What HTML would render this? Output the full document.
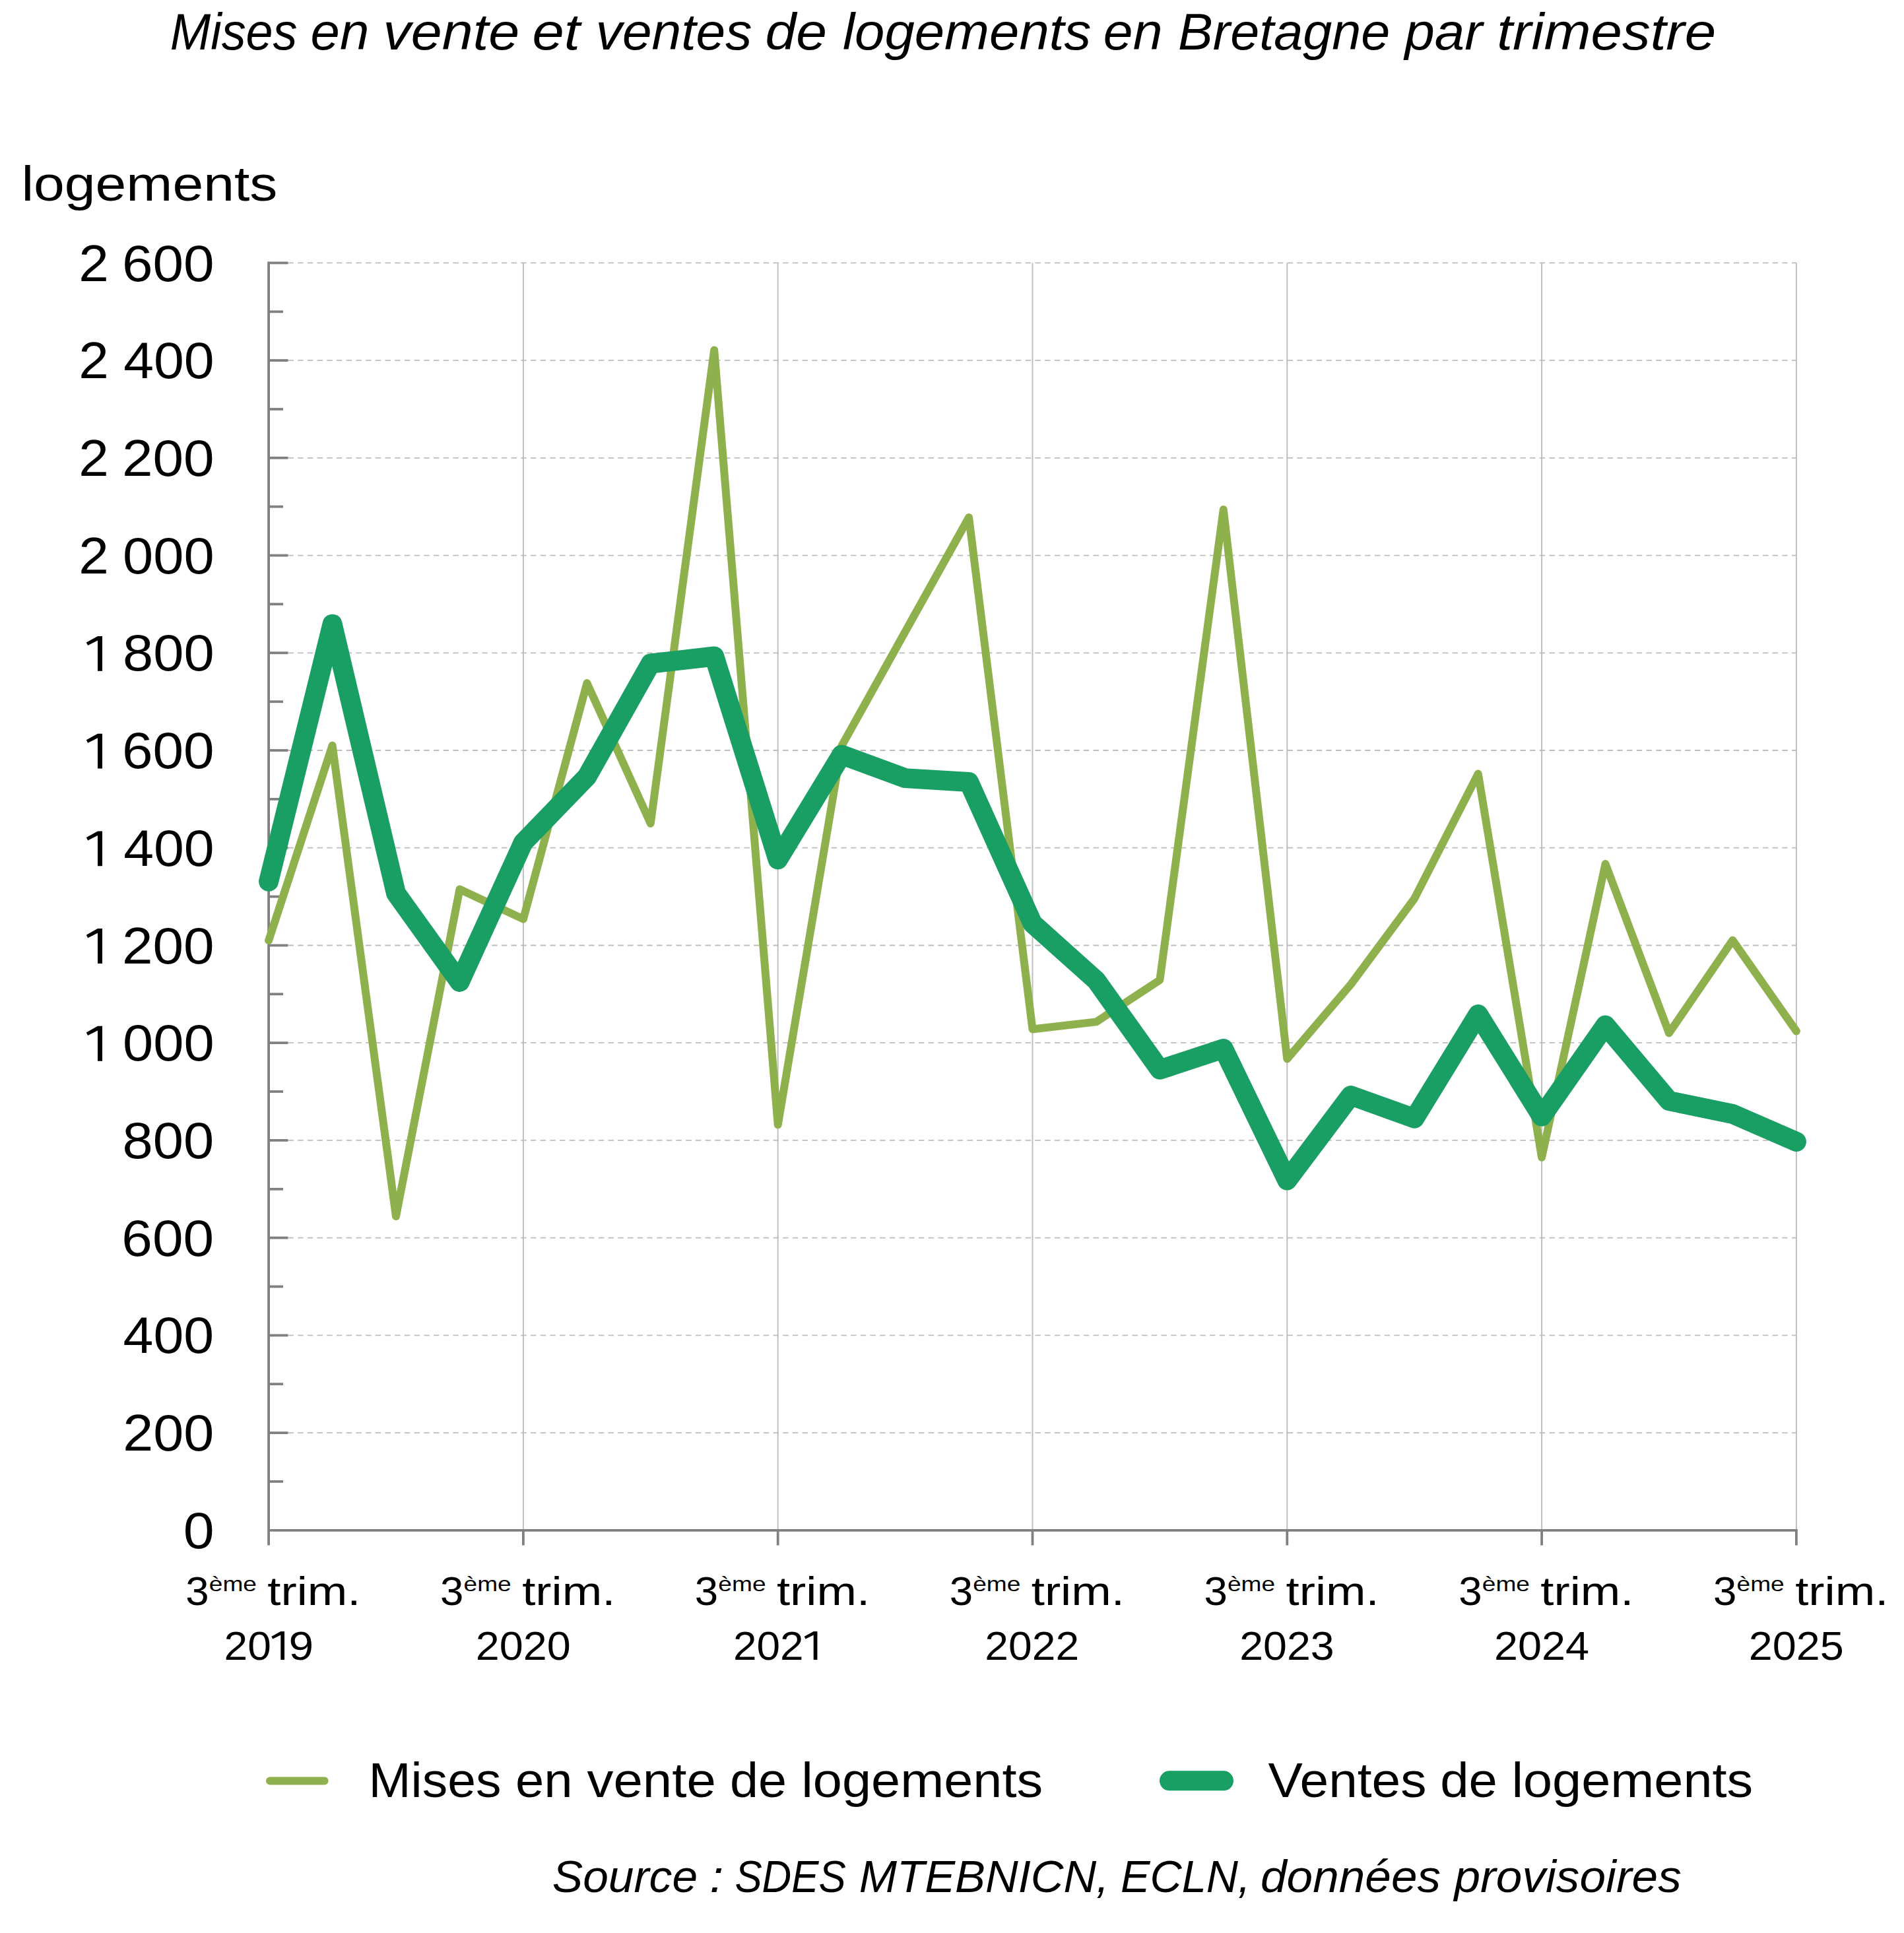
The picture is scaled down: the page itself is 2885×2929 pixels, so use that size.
<!DOCTYPE html>
<html lang="fr"><head><meta charset="utf-8"><title>Mises en vente et ventes de logements en Bretagne</title>
<style>html,body{margin:0;padding:0;background:#fff}body{width:2885px;height:2929px;overflow:hidden}svg{display:block}text{font-family:"Liberation Sans",sans-serif;white-space:pre}</style></head><body>
<svg width="2885" height="2929" viewBox="0 0 2885 2929">
<rect width="2885" height="2929" fill="#fff"/>
<g stroke="#bdbdbd" stroke-width="1.8" stroke-dasharray="8.4 6.3" fill="none"><line x1="436.5" y1="2171.1" x2="2721.9" y2="2171.1"/><line x1="436.5" y1="2023.4" x2="2721.9" y2="2023.4"/><line x1="436.5" y1="1875.6" x2="2721.9" y2="1875.6"/><line x1="436.5" y1="1727.9" x2="2721.9" y2="1727.9"/><line x1="436.5" y1="1580.2" x2="2721.9" y2="1580.2"/><line x1="436.5" y1="1432.5" x2="2721.9" y2="1432.5"/><line x1="436.5" y1="1284.7" x2="2721.9" y2="1284.7"/><line x1="436.5" y1="1137.0" x2="2721.9" y2="1137.0"/><line x1="436.5" y1="989.3" x2="2721.9" y2="989.3"/><line x1="436.5" y1="841.6" x2="2721.9" y2="841.6"/><line x1="436.5" y1="693.8" x2="2721.9" y2="693.8"/><line x1="436.5" y1="546.1" x2="2721.9" y2="546.1"/><line x1="436.5" y1="398.4" x2="2721.9" y2="398.4"/></g>
<g stroke="#bcbcbc" stroke-width="1.9" fill="none"><line x1="792.9" y1="398.4" x2="792.9" y2="2318.8"/><line x1="1178.7" y1="398.4" x2="1178.7" y2="2318.8"/><line x1="1564.5" y1="398.4" x2="1564.5" y2="2318.8"/><line x1="1950.3" y1="398.4" x2="1950.3" y2="2318.8"/><line x1="2336.1" y1="398.4" x2="2336.1" y2="2318.8"/><line x1="2721.9" y1="398.4" x2="2721.9" y2="2318.8"/></g>
<g stroke="#808080" stroke-width="3.8" fill="none"><line x1="407.1" y1="396.5" x2="407.1" y2="2341.6"/><line x1="407.1" y1="2318.8" x2="2723.8" y2="2318.8"/><line x1="407.1" y1="2244.9" x2="429.0" y2="2244.9"/><line x1="407.1" y1="2171.1" x2="436.5" y2="2171.1"/><line x1="407.1" y1="2097.2" x2="429.0" y2="2097.2"/><line x1="407.1" y1="2023.4" x2="436.5" y2="2023.4"/><line x1="407.1" y1="1949.5" x2="429.0" y2="1949.5"/><line x1="407.1" y1="1875.6" x2="436.5" y2="1875.6"/><line x1="407.1" y1="1801.8" x2="429.0" y2="1801.8"/><line x1="407.1" y1="1727.9" x2="436.5" y2="1727.9"/><line x1="407.1" y1="1654.0" x2="429.0" y2="1654.0"/><line x1="407.1" y1="1580.2" x2="436.5" y2="1580.2"/><line x1="407.1" y1="1506.3" x2="429.0" y2="1506.3"/><line x1="407.1" y1="1432.5" x2="436.5" y2="1432.5"/><line x1="407.1" y1="1358.6" x2="429.0" y2="1358.6"/><line x1="407.1" y1="1284.7" x2="436.5" y2="1284.7"/><line x1="407.1" y1="1210.9" x2="429.0" y2="1210.9"/><line x1="407.1" y1="1137.0" x2="436.5" y2="1137.0"/><line x1="407.1" y1="1063.2" x2="429.0" y2="1063.2"/><line x1="407.1" y1="989.3" x2="436.5" y2="989.3"/><line x1="407.1" y1="915.4" x2="429.0" y2="915.4"/><line x1="407.1" y1="841.6" x2="436.5" y2="841.6"/><line x1="407.1" y1="767.7" x2="429.0" y2="767.7"/><line x1="407.1" y1="693.8" x2="436.5" y2="693.8"/><line x1="407.1" y1="620.0" x2="429.0" y2="620.0"/><line x1="407.1" y1="546.1" x2="436.5" y2="546.1"/><line x1="407.1" y1="472.3" x2="429.0" y2="472.3"/><line x1="407.1" y1="398.4" x2="436.5" y2="398.4"/><line x1="792.9" y1="2318.8" x2="792.9" y2="2341.6"/><line x1="1178.7" y1="2318.8" x2="1178.7" y2="2341.6"/><line x1="1564.5" y1="2318.8" x2="1564.5" y2="2341.6"/><line x1="1950.3" y1="2318.8" x2="1950.3" y2="2341.6"/><line x1="2336.1" y1="2318.8" x2="2336.1" y2="2341.6"/><line x1="2721.9" y1="2318.8" x2="2721.9" y2="2341.6"/></g>
<polyline points="407.1,1425.1 503.6,1129.6 600.0,1843.1 696.5,1347.5 792.9,1392.6 889.4,1035.1 985.8,1247.8 1082.2,530.6 1178.7,1704.3 1275.2,1130.4 1371.6,957.2 1468.1,784.0 1564.5,1559.5 1661.0,1548.4 1757.4,1484.9 1853.8,772.1 1950.3,1604.6 2046.8,1491.6 2143.2,1361.6 2239.7,1172.5 2336.1,1753.8 2432.6,1309.1 2529.0,1565.4 2625.4,1424.7 2721.9,1562.5" fill="none" stroke="#8fb14d" stroke-width="12" stroke-linecap="round" stroke-linejoin="round"/>
<polyline points="407.1,1335.7 503.6,945.7 600.0,1353.4 696.5,1487.9 792.9,1276.6 889.4,1176.9 985.8,1005.5 1082.2,994.5 1178.7,1302.5 1275.2,1143.7 1371.6,1179.1 1468.1,1185.0 1564.5,1399.2 1661.0,1485.6 1757.4,1620.8 1853.8,1589.0 1950.3,1788.5 2046.8,1660.0 2143.2,1694.7 2239.7,1537.0 2336.1,1691.7 2432.6,1553.6 2529.0,1668.1 2625.4,1688.0 2721.9,1730.1" fill="none" stroke="#199e64" stroke-width="30" stroke-linecap="round" stroke-linejoin="round"/>
<line x1="409" y1="2698.5" x2="491.6" y2="2698.5" stroke="#8fb14d" stroke-width="12" stroke-linecap="round"/>
<line x1="1772" y1="2698.3" x2="1854" y2="2698.3" stroke="#199e64" stroke-width="30" stroke-linecap="round"/>
<text transform="translate(257.78 74.80) scale(0.9584 1)" font-size="77" font-style="italic" fill="#000">Mises</text>
<text transform="translate(470.59 74.80) scale(1.0367 1)" font-size="77" font-style="italic" fill="#000">en</text>
<text transform="translate(580.61 74.80) scale(1.0967 1)" font-size="77" font-style="italic" fill="#000">vente</text>
<text transform="translate(806.42 74.80) scale(1.1281 1)" font-size="77" font-style="italic" fill="#000">et</text>
<text transform="translate(902.73 74.80) scale(1.0434 1)" font-size="77" font-style="italic" fill="#000">ventes</text>
<text transform="translate(1159.43 74.80) scale(1.0912 1)" font-size="77" font-style="italic" fill="#000">de</text>
<text transform="translate(1276.94 74.80) scale(1.0594 1)" font-size="77" font-style="italic" fill="#000">logements</text>
<text transform="translate(1671.86 74.80) scale(1.0468 1)" font-size="77" font-style="italic" fill="#000">en</text>
<text transform="translate(1785.04 74.80) scale(1.0282 1)" font-size="77" font-style="italic" fill="#000">Bretagne</text>
<text transform="translate(2128.42 74.80) scale(1.0595 1)" font-size="77" font-style="italic" fill="#000">par</text>
<text transform="translate(2268.37 74.80) scale(1.1085 1)" font-size="77" font-style="italic" fill="#000">trimestre</text>
<text transform="translate(32.39 303.70) scale(1.1213 1)" font-size="75" fill="#000">logements</text>
<text transform="translate(277.72 2345.90) scale(1.0946 1)" font-size="77" fill="#000">0</text>
<text transform="translate(186.20 2198.18) scale(1.0738 1)" font-size="77" fill="#000">200</text>
<text transform="translate(186.56 2050.45) scale(1.0710 1)" font-size="77" fill="#000">400</text>
<text transform="translate(184.35 1902.73) scale(1.0885 1)" font-size="77" fill="#000">600</text>
<text transform="translate(185.46 1755.01) scale(1.0797 1)" font-size="77" fill="#000">800</text>
<text transform="translate(186.06 1607.28) scale(1.0789 1)" font-size="77" fill="#000">000</text>
<text transform="translate(184.95 1459.56) scale(1.0877 1)" font-size="77" fill="#000">200</text>
<text transform="translate(187.16 1311.84) scale(1.0702 1)" font-size="77" fill="#000">400</text>
<text transform="translate(184.95 1164.12) scale(1.0877 1)" font-size="77" fill="#000">600</text>
<text transform="translate(186.06 1016.39) scale(1.0789 1)" font-size="77" fill="#000">800</text>
<text transform="translate(119.14 868.67) scale(1.0657 1)" font-size="77" fill="#000">2</text>
<text transform="translate(186.06 868.67) scale(1.0789 1)" font-size="77" fill="#000">000</text>
<text transform="translate(119.14 720.95) scale(1.0657 1)" font-size="77" fill="#000">2</text>
<text transform="translate(184.95 720.95) scale(1.0877 1)" font-size="77" fill="#000">200</text>
<text transform="translate(119.14 573.22) scale(1.0657 1)" font-size="77" fill="#000">2</text>
<text transform="translate(187.16 573.22) scale(1.0702 1)" font-size="77" fill="#000">400</text>
<text transform="translate(119.14 425.50) scale(1.0657 1)" font-size="77" fill="#000">2</text>
<text transform="translate(184.95 425.50) scale(1.0877 1)" font-size="77" fill="#000">600</text>
<text transform="translate(281.25 2431.70) scale(1.0267 1)" font-size="62" fill="#000">3</text>
<text transform="translate(316.74 2411.40) scale(1.1600 1)" font-size="32" fill="#000">ème</text>
<text transform="translate(405.33 2431.70) scale(1.1719 1)" font-size="62" fill="#000">trim.</text>
<text transform="translate(339.47 2515.10) scale(1.0429 1)" font-size="61.5" fill="#000">20</text>
<text transform="translate(437.50 2515.10) scale(1.1000 1)" font-size="61.5" fill="#000">9</text>
<text transform="translate(667.05 2431.70) scale(1.0267 1)" font-size="62" fill="#000">3</text>
<text transform="translate(702.54 2411.40) scale(1.1600 1)" font-size="32" fill="#000">ème</text>
<text transform="translate(791.13 2431.70) scale(1.1719 1)" font-size="62" fill="#000">trim.</text>
<text transform="translate(720.74 2515.10) scale(1.0519 1)" font-size="61.5" fill="#000">2020</text>
<text transform="translate(1052.85 2431.70) scale(1.0267 1)" font-size="62" fill="#000">3</text>
<text transform="translate(1088.34 2411.40) scale(1.1600 1)" font-size="32" fill="#000">ème</text>
<text transform="translate(1176.93 2431.70) scale(1.1719 1)" font-size="62" fill="#000">trim.</text>
<text transform="translate(1110.98 2515.10) scale(1.0402 1)" font-size="61.5" fill="#000">202</text>
<text transform="translate(1438.65 2431.70) scale(1.0267 1)" font-size="62" fill="#000">3</text>
<text transform="translate(1474.14 2411.40) scale(1.1600 1)" font-size="32" fill="#000">ème</text>
<text transform="translate(1562.73 2431.70) scale(1.1719 1)" font-size="62" fill="#000">trim.</text>
<text transform="translate(1492.37 2515.10) scale(1.0435 1)" font-size="61.5" fill="#000">2022</text>
<text transform="translate(1824.45 2431.70) scale(1.0267 1)" font-size="62" fill="#000">3</text>
<text transform="translate(1859.94 2411.40) scale(1.1600 1)" font-size="32" fill="#000">ème</text>
<text transform="translate(1948.53 2431.70) scale(1.1719 1)" font-size="62" fill="#000">trim.</text>
<text transform="translate(1878.15 2515.10) scale(1.0496 1)" font-size="61.5" fill="#000">2023</text>
<text transform="translate(2210.25 2431.70) scale(1.0267 1)" font-size="62" fill="#000">3</text>
<text transform="translate(2245.74 2411.40) scale(1.1600 1)" font-size="32" fill="#000">ème</text>
<text transform="translate(2334.33 2431.70) scale(1.1719 1)" font-size="62" fill="#000">trim.</text>
<text transform="translate(2264.04 2515.10) scale(1.0530 1)" font-size="61.5" fill="#000">2024</text>
<text transform="translate(2596.05 2431.70) scale(1.0267 1)" font-size="62" fill="#000">3</text>
<text transform="translate(2631.54 2411.40) scale(1.1600 1)" font-size="32" fill="#000">ème</text>
<text transform="translate(2720.13 2431.70) scale(1.1719 1)" font-size="62" fill="#000">trim.</text>
<text transform="translate(2649.84 2515.10) scale(1.0519 1)" font-size="61.5" fill="#000">2025</text>
<text transform="translate(558.44 2723.20) scale(1.0267 1)" font-size="75" fill="#000">Mises</text>
<text transform="translate(780.88 2723.20) scale(1.0395 1)" font-size="75" fill="#000">en</text>
<text transform="translate(889.50 2723.20) scale(1.0650 1)" font-size="75" fill="#000">vente</text>
<text transform="translate(1106.01 2723.20) scale(1.0312 1)" font-size="75" fill="#000">de</text>
<text transform="translate(1214.21 2723.20) scale(1.0577 1)" font-size="75" fill="#000">logements</text>
<text transform="translate(1921.45 2723.20) scale(1.0469 1)" font-size="75" fill="#000">Ventes</text>
<text transform="translate(2182.28 2723.20) scale(1.0390 1)" font-size="75" fill="#000">de</text>
<text transform="translate(2290.41 2723.20) scale(1.0571 1)" font-size="75" fill="#000">logements</text>
<text transform="translate(836.75 2867.40) scale(1.0227 1)" font-size="68" font-style="italic" fill="#000">Source</text>
<text transform="translate(1075.15 2867.40) scale(1.1154 1)" font-size="68" font-style="italic" fill="#000">:</text>
<text transform="translate(1113.38 2867.40) scale(0.9093 1)" font-size="68" font-style="italic" fill="#000">SDES</text>
<text transform="translate(1301.78 2867.40) scale(1.0124 1)" font-size="68" font-style="italic" fill="#000">MTEBNICN,</text>
<text transform="translate(1698.04 2867.40) scale(0.9816 1)" font-size="68" font-style="italic" fill="#000">ECLN,</text>
<text transform="translate(1909.91 2867.40) scale(1.0475 1)" font-size="68" font-style="italic" fill="#000">données</text>
<text transform="translate(2203.49 2867.40) scale(1.0474 1)" font-size="68" font-style="italic" fill="#000">provisoires</text>
<path d="M148.00 1554.83 L155.00 1554.83 L155.00 1607.68 L148.00 1607.68 L148.00 1561.48 L133.10 1568.88 L130.80 1564.38Z" fill="#000"/>
<path d="M148.00 1407.11 L155.00 1407.11 L155.00 1459.96 L148.00 1459.96 L148.00 1413.76 L133.10 1421.16 L130.80 1416.66Z" fill="#000"/>
<path d="M148.00 1259.39 L155.00 1259.39 L155.00 1312.24 L148.00 1312.24 L148.00 1266.04 L133.10 1273.44 L130.80 1268.94Z" fill="#000"/>
<path d="M148.00 1111.67 L155.00 1111.67 L155.00 1164.52 L148.00 1164.52 L148.00 1118.32 L133.10 1125.72 L130.80 1121.22Z" fill="#000"/>
<path d="M148.00 963.94 L155.00 963.94 L155.00 1016.79 L148.00 1016.79 L148.00 970.59 L133.10 977.99 L130.80 973.49Z" fill="#000"/>
<path d="M425.33 2472.00 L431.04 2472.00 L431.04 2515.10 L425.33 2515.10 L425.33 2477.42 L413.18 2483.46 L411.30 2479.79Z" fill="#000"/>
<path d="M1232.73 2472.00 L1238.44 2472.00 L1238.44 2515.10 L1232.73 2515.10 L1232.73 2477.42 L1220.58 2483.46 L1218.70 2479.79Z" fill="#000"/>
</svg></body></html>
